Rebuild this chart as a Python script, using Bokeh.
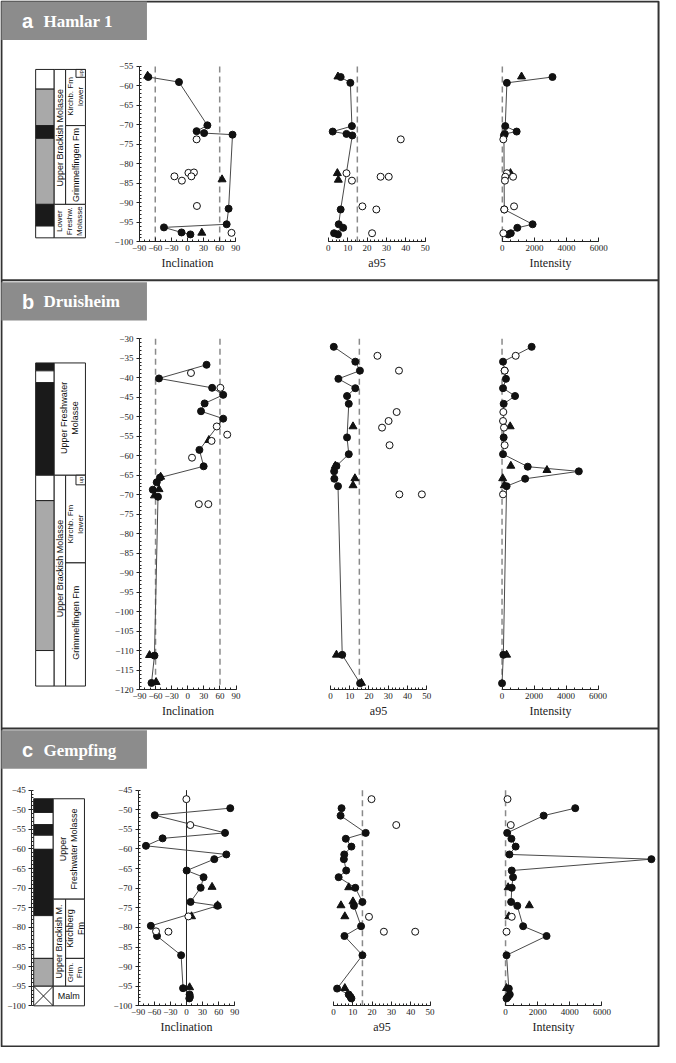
import math
from bokeh.plotting import figure
from bokeh.models import Range1d, LinearAxis, FixedTicker
from bokeh.core.properties import value
from bokeh.embed import file_html
from bokeh.resources import INLINE

# ======================= DATA =======================
# ---- Panel a : Hamlar 1 ----
a_inc_fill_d = [-57.7, -59.0, -70.1, -71.6, -72.1, -72.5, -91.5, -95.5, -96.3, -97.6, -98.1]
a_inc_fill_v = [-73, -15.8, 37.1, 17, 31, 83.9, 76.6, 73, -43.8, -11, 5.5]
a_inc_open_d = [-73.7, -83.2, -82.3, -82.2, -83.2, -84.3, -90.8, -97.7]
a_inc_open_v = [17, -24.3, 1.8, 12.1, 7.3, -10.4, 17.6, 82]
a_inc_tri_d = [-57.4, -84.0, -97.7]
a_inc_tri_v = [-74.2, 64.4, 26.7]

a_a95_fill_d = [-57.7, -59.2, -70.3, -71.7, -72.3, -72.7, -91.7, -95.5, -96.4, -97.8, -98.1]
a_a95_fill_v = [6.4, 11.4, 12.2, 2.3, 9.4, 12.4, 6.4, 5.4, 7.7, 3.0, 5.0]
a_a95_open_d = [-73.7, -82.4, -83.3, -83.3, -84.3, -90.9, -91.7, -97.8]
a_a95_open_v = [37.4, 9.4, 27.0, 31.2, 12.2, 17.6, 24.8, 22.6]
a_a95_tri_d = [-57.6, -82.4, -84.1]
a_a95_tri_v = [5.0, 4.7, 5.2]

a_int_fill_d = [-57.7, -59.2, -70.3, -71.7, -72.3, -72.7, -91.7, -95.5, -96.4, -97.8, -98.1]
a_int_fill_v = [3122, 284, 182, 892, 150, 100, 122, 1885, 932, 527, 365]
a_int_open_d = [-73.7, -82.4, -83.3, -83.3, -84.3, -90.9, -91.7, -97.8]
a_int_open_v = [61, 284, 182, 669, 162, 730, 122, 61]
a_int_tri_d = [-57.6, -82.4]
a_int_tri_v = [1196, 507]

# ---- Panel b : Druisheim ----
b_inc_fill_d = [-36.7, -40.2, -42.6, -44.4, -46.6, -48.6, -50.5, -58.5, -62.7, -65.6, -66.8, -68.7, -70.5, -111.2, -118.2]
b_inc_fill_v = [35, -53.6, 45.4, 66, 31.4, 24.7, 66, 21.7, 29.6, -51.8, -57.8, -65.1, -55.4, -62, -67.5]
b_inc_open_d = [-38.8, -42.6, -52.5, -54.6, -56.2, -60.5, -72.4, -72.4]
b_inc_open_v = [6, 60.8, 54, 73.5, 44.3, 7.9, 20.6, 38.3]
b_inc_tri_d = [-56.0, -65.4, -68.6, -70.2, -111.1, -118.0]
b_inc_tri_v = [39.3, -50.5, -53.5, -62, -71.2, -59]

b_a95_fill_d = [-32.1, -35.9, -38.2, -40.3, -42.7, -44.7, -46.7, -55.3, -59.6, -62.6, -64.0, -65.9, -67.8, -111.0, -118.3]
b_a95_fill_v = [1.7, 12.9, 15.3, 4.1, 12.9, 8.6, 9.5, 8.6, 9.5, 3.1, 1.9, 2.0, 3.9, 6.1, 15.4]
b_a95_open_d = [-34.4, -38.2, -48.8, -51.1, -52.8, -57.3, -69.9, -69.9]
b_a95_open_v = [24.4, 35.6, 34.4, 30.2, 26.8, 30.7, 35.8, 47.5]
b_a95_tri_d = [-52.5, -62.6, -65.8, -67.6, -111.0, -118.2]
b_a95_tri_v = [11.7, 2.5, 12.7, 11.7, 3.1, 16.1]

b_int_fill_d = [-32.1, -35.9, -38.2, -40.3, -42.7, -44.7, -46.7, -55.3, -59.6, -62.8, -64.0, -65.9, -67.8, -111.0, -118.3]
b_int_fill_v = [1851, 61, 163, 244, 61, 814, 102, 102, 61, 1607, 4800, 1444, 285, 81, 0]
b_int_open_d = [-34.4, -38.2, -48.8, -51.1, -52.8, -57.3, -69.9]
b_int_open_v = [854, 163, 81, 61, 122, 163, 61]
b_int_tri_d = [-52.5, -62.6, -63.7, -65.8, -67.6, -111.0]
b_int_tri_v = [509, 549, 2807, 41, 142, 285]

# ---- Panel c : Gempfing ----
c_inc_fill_d = [-49.6, -51.4, -55.9, -57.3, -59.2, -61.4, -62.6, -65.5, -67.2, -69.9, -73.5, -74.5, -79.6, -82.2, -87.1, -95.5, -97.1, -97.7, -98.1]
c_inc_fill_v = [81.5, -59.1, 71.8, -44.5, -75.5, 74.2, 51.8, 0.3, 31.8, 26.4, 7.6, 57.9, -66.4, -54.9, -10, -6.4, 5.8, 6.4, 5.2]
c_inc_open_d = [-47.3, -53.9, -77.2, -81.0, -81.1]
c_inc_open_v = [-0.2, 7.1, 3.5, -56.7, -33.6]
c_inc_tri_d = [-69.7, -74.4, -77.2, -95.3]
c_inc_tri_v = [47.6, 57.9, 9.4, 5.8]

c_a95_fill_d = [-49.6, -51.5, -55.9, -57.4, -59.4, -61.4, -62.6, -65.5, -67.2, -69.9, -73.5, -74.5, -79.7, -82.2, -87.1, -95.6, -97.1, -97.7, -98.1]
c_a95_fill_v = [4.2, 3.7, 16.7, 6.4, 9.3, 5.6, 5.4, 6.6, 2.7, 11.3, 15.0, 10.6, 14.3, 5.7, 15.0, 1.9, 7.9, 8.8, 9.3]
c_a95_open_d = [-47.3, -53.9, -77.3, -81.1, -81.1]
c_a95_open_v = [19.7, 32.5, 18.4, 26.1, 42.3]
c_a95_tri_d = [-69.8, -73.4, -74.4, -77.2, -95.5]
c_a95_tri_v = [7.9, 10.1, 3.9, 5.9, 5.9]

c_int_fill_d = [-49.6, -51.5, -55.9, -57.4, -59.4, -61.4, -62.6, -65.5, -67.2, -69.9, -73.5, -74.5, -79.7, -82.2, -87.1, -95.6, -97.1, -97.7, -98.1]
c_int_fill_v = [4338, 2372, 101, 365, 628, 243, 9081, 385, 466, 385, 345, 730, 1095, 2554, 61, 203, 264, 150, 61]
c_int_open_d = [-47.3, -53.9, -77.3, -81.1]
c_int_open_v = [122, 324, 385, 61]
c_int_tri_d = [-69.8, -74.4, -77.2, -95.5]
c_int_tri_v = [162, 1480, 203, 61]

# reference lines
inc_limits = [-60, 60]
inc_zero = [0]
a95_cutoff = [15]
int_zero = [0]

# axis ticks
inc_ticks = [-90, -60, -30, 0, 30, 60, 90]
a95_ticks = [0, 10, 20, 30, 40, 50]
int_ticks = [0, 2000, 4000, 6000]

# stratigraphy: polarity column (top, bottom, colour class)
a_pol_top = [-55.76, -60.81, -70.17, -73.45, -90.39, -95.95]
a_pol_bot = [-60.81, -70.17, -73.45, -90.39, -95.95, -98.98]
a_pol_cls = ["white", "gray", "black", "gray", "black", "white"]
b_pol_top = [-36.23, -38.25, -41.28, -65.0, -71.5, -109.9]
b_pol_bot = [-38.25, -41.28, -65.0, -71.5, -109.9, -119.0]
b_pol_cls = ["black", "white", "black", "white", "gray", "white"]
c_pol_top = [-47.2, -50.7, -53.8, -56.5, -60.1, -77.0, -87.9, -95.0]
c_pol_bot = [-50.7, -53.8, -56.5, -60.1, -77.0, -87.9, -95.0, -100.0]
c_pol_cls = ["black", "white", "black", "white", "black", "white", "gray", "cross"]

# stratigraphy units: (column, top, bottom, label, label depth, font px, angle)
a_units = [
    ("c2", -55.76, -90.39, "Upper Brackish Molasse", -73.3, 9, 90),
    ("c3", -55.76, -70.17, "Kirchb. Fm\nlower", -62.7, 8, 90),
    ("up", -55.76, -57.78, "up", -56.8, 6, 90),
    ("c3", -70.17, -90.39, "Grimmelfingen Fm", -80.3, 9, 90),
    ("c23", -90.39, -98.98, "Lower\nFreshw.\nMolasse", -94.7, 8, 90),
]
b_units = [
    ("c23", -36.23, -65.0, "Upper Freshwater\nMolasse", -50.3, 9, 90),
    ("c2", -65.0, -119.0, "Upper Brackish Molasse", -88.9, 9, 90),
    ("c3", -65.0, -87.45, "Kirchb. Fm\nlower", -77.5, 8, 90),
    ("up", -65.0, -67.45, "up", -66.2, 6, 90),
    ("c3", -87.45, -119.0, "Grimmelfingen Fm", -102.8, 9, 90),
]
c_units = [
    ("c23", -47.2, -72.8, "Upper\nFreshwater Molasse", -60.0, 9, 90),
    ("c2", -72.8, -95.0, "Upper Brackish M.", -83.6, 9, 90),
    ("c3", -72.8, -87.9, "Kirchberg\nFm", -80.3, 9, 90),
    ("c3", -87.9, -95.0, "Grim.\nFm", -91.5, 8, 90),
    ("c23", -95.0, -100.0, "Malm", -97.5, 9, 0),
]

titles = {"a": ("a", "Hamlar 1"), "b": ("b", "Druisheim"), "c": ("c", "Gempfing")}

# ======================= LAYOUT (reference pixel geometry) =======================
W_REF, H_REF = 676, 1063
W, H = 660, 1047

LAY = {
    "a": dict(top=0, depth=(-55, -100, 67, 245), inc=(142, 241), a95=(335.7, 435), int=(514, 612.7),
              strat=(36, 55, 66.7, 87), up_x=77.3, inc_lines="dash", strat_axis=False),
    "b": dict(top=285, depth=(-30, -120, 343.3, 700), inc=(142.3, 241.3), a95=(338, 436.5), int=(513.7, 612),
              strat=(36, 55, 66.7, 87), up_x=77.3, inc_lines="dash", strat_axis=False),
    "c": dict(top=740, depth=(-45, -100, 801.7, 1020.7), inc=(141, 240), a95=(341, 440), int=(517.3, 616),
              strat=(34, 54, 66.7, 86), up_x=77.3, inc_lines="zero", strat_axis=True),
}

COL = {"white": "white", "gray": "#a9a9a9", "black": "#1a1a1a", "cross": "white"}
INK = "#222222"
LINE = "#4a4a4a"
DASH = "#8a8a8a"
SERIF = "Liberation Serif"
SANS = "Liberation Sans"


def x_range_for(d0, d1, p0, p1):
    s = (d1 - d0) / (p1 - p0)
    return Range1d(start=d0 - p0 * s, end=d0 + (W_REF - p0) * s)


def y_range_for(d_top, d_bot, q_top, q_bot):
    s = (d_bot - d_top) / (q_bot - q_top)
    return Range1d(start=d_top + (H_REF - q_top) * s, end=d_top - q_top * s)


p = figure(width=W, height=H, x_range=Range1d(0, W_REF), y_range=Range1d(H_REF, 0),
           output_backend="svg", toolbar_location=None, min_border=0,
           x_axis_location=None, y_axis_location=None, outline_line_color=None,
           background_fill_color="white", border_fill_color="white")
p.xgrid.visible = False
p.ygrid.visible = False


def style_axis(ax, vertical=False):
    ax.axis_line_color = INK
    ax.axis_line_width = 1
    ax.major_tick_line_color = INK
    ax.minor_tick_line_color = INK
    if vertical:
        ax.major_tick_in, ax.major_tick_out = 0, 3
        ax.minor_tick_in, ax.minor_tick_out = 2, 0
    else:
        ax.major_tick_in, ax.major_tick_out = 4, 0
        ax.minor_tick_in, ax.minor_tick_out = 2, 0
    ax.major_label_text_font = SERIF
    ax.major_label_text_font_size = "9px"
    ax.major_label_text_color = INK
    ax.major_label_standoff = 3
    ax.axis_label_text_font = SERIF
    ax.axis_label_text_font_size = "12px"
    ax.axis_label_text_font_style = "normal"
    ax.axis_label_text_color = INK
    ax.axis_label_standoff = 2


def series(xr, yr, fd, fv, od, ov, td, tv):
    p.line(fv, fd, x_range_name=xr, y_range_name=yr, line_color=LINE, line_width=1)
    p.scatter(tv, td, x_range_name=xr, y_range_name=yr, marker="triangle", size=8,
              fill_color="#111111", line_color="#111111")
    p.scatter(fv, fd, x_range_name=xr, y_range_name=yr, marker="circle", size=7,
              fill_color="#111111", line_color="#111111")
    p.scatter(ov, od, x_range_name=xr, y_range_name=yr, marker="circle", size=7,
              fill_color="white", line_color="#111111", line_width=1)


DATA = {
    "a": dict(inc=(a_inc_fill_d, a_inc_fill_v, a_inc_open_d, a_inc_open_v, a_inc_tri_d, a_inc_tri_v),
              a95=(a_a95_fill_d, a_a95_fill_v, a_a95_open_d, a_a95_open_v, a_a95_tri_d, a_a95_tri_v),
              int=(a_int_fill_d, a_int_fill_v, a_int_open_d, a_int_open_v, a_int_tri_d, a_int_tri_v),
              pol=(a_pol_top, a_pol_bot, a_pol_cls), units=a_units),
    "b": dict(inc=(b_inc_fill_d, b_inc_fill_v, b_inc_open_d, b_inc_open_v, b_inc_tri_d, b_inc_tri_v),
              a95=(b_a95_fill_d, b_a95_fill_v, b_a95_open_d, b_a95_open_v, b_a95_tri_d, b_a95_tri_v),
              int=(b_int_fill_d, b_int_fill_v, b_int_open_d, b_int_open_v, b_int_tri_d, b_int_tri_v),
              pol=(b_pol_top, b_pol_bot, b_pol_cls), units=b_units),
    "c": dict(inc=(c_inc_fill_d, c_inc_fill_v, c_inc_open_d, c_inc_open_v, c_inc_tri_d, c_inc_tri_v),
              a95=(c_a95_fill_d, c_a95_fill_v, c_a95_open_d, c_a95_open_v, c_a95_tri_d, c_a95_tri_v),
              int=(c_int_fill_d, c_int_fill_v, c_int_open_d, c_int_open_v, c_int_tri_d, c_int_tri_v),
              pol=(c_pol_top, c_pol_bot, c_pol_cls), units=c_units),
}

# ---------- frame, separators, headers ----------
p.quad(left=[1], right=[674], top=[1], bottom=[1062], fill_color=None, line_color="#333333", line_width=2)
p.segment(x0=[1, 1], x1=[674, 674], y0=[284, 739], y1=[284, 739], line_color="#333333", line_width=2)

for key in ["a", "b", "c"]:
    L = LAY[key]
    D = DATA[key]
    t = L["top"]
    # header
    p.quad(left=[1], right=[150], top=[t + 1], bottom=[t + 40], fill_color="#8c8c8c", line_color=None)
    letter, name = titles[key]
    p.text(x=[22], y=[t + 21], text=[letter], text_font=value(SANS), text_font_style="bold",
           text_font_size="20px", text_color="white", text_baseline="middle")
    p.text(x=[44], y=[t + 21], text=[name], text_font=value(SERIF), text_font_style="bold",
           text_font_size="17px", text_color="white", text_baseline="middle")

    d_top, d_bot, q_top, q_bot = L["depth"]
    yr = f"{key}_y"
    p.extra_y_ranges[yr] = y_range_for(d_top, d_bot, q_top, q_bot)
    specs = [("inc", (-90, 90), "Inclination", inc_ticks, list(range(-90, 91, 10))),
             ("a95", (0, 50), "a95", a95_ticks, list(range(0, 51, 2))),
             ("int", (0, 6000), "Intensity", int_ticks, list(range(0, 6001, 500)))]
    for name_, (x0, x1), label, ticks, minor in specs:
        xr = f"{key}_{name_}"
        p0, p1 = L[name_]
        p.extra_x_ranges[xr] = x_range_for(x0, x1, p0, p1)
        # reference lines
        if name_ == "inc":
            if L["inc_lines"] == "dash":
                for v in inc_limits:
                    p.line([v, v], [d_top, d_bot], x_range_name=xr, y_range_name=yr,
                           line_color=DASH, line_width=1.5, line_dash="6 4")
            else:
                for v in inc_zero:
                    p.line([v, v], [d_top, d_bot], x_range_name=xr, y_range_name=yr,
                           line_color=INK, line_width=1)
        elif name_ == "a95":
            for v in a95_cutoff:
                p.line([v, v], [d_top, d_bot], x_range_name=xr, y_range_name=yr,
                       line_color=DASH, line_width=1.5, line_dash="6 4")
        else:
            for v in int_zero:
                p.line([v, v], [d_top, d_bot], x_range_name=xr, y_range_name=yr,
                       line_color=DASH, line_width=1.5, line_dash="6 4")
        fd, fv, od, ov, td, tv = D[name_]
        series(xr, yr, fd, fv, od, ov, td, tv)
        ax = LinearAxis(x_range_name=xr, y_range_name=yr, fixed_location=d_bot, bounds=(x0, x1),
                        ticker=FixedTicker(ticks=ticks, minor_ticks=minor), axis_label=label)
        style_axis(ax)
        p.add_layout(ax, "below")
        if name_ == "inc":
            dticks = list(range(int(d_top), int(d_bot) - 1, -5))
            yax = LinearAxis(x_range_name=xr, y_range_name=yr, fixed_location=x0, bounds=(d_bot, d_top),
                             ticker=FixedTicker(ticks=dticks, minor_ticks=list(range(int(d_bot), int(d_top) + 1))))
            style_axis(yax, vertical=True)
            yax.axis_label = None
            p.add_layout(yax, "left")

    # ---------- stratigraphic column ----------
    sx0, sx1, sx2, sx3 = L["strat"]
    ptop, pbot, pcls = D["pol"]
    p.quad(left=[sx0] * len(ptop), right=[sx1] * len(ptop), top=ptop, bottom=pbot,
           fill_color=[COL[c] for c in pcls], line_color=INK, line_width=1, y_range_name=yr)
    for tp, bt, c in zip(ptop, pbot, pcls):
        if c == "cross":
            p.segment(x0=[sx0, sx0], x1=[sx1, sx1], y0=[tp, bt], y1=[bt, tp],
                      line_color=INK, line_width=1, y_range_name=yr)
    for col, tp, bt, lab, ld, fs, ang in D["units"]:
        if col == "c2":
            l, r = sx1, sx2
        elif col == "c3":
            l, r = sx2, sx3
        elif col == "up":
            l, r = L["up_x"], sx3
        else:
            l, r = sx1, sx3
        p.quad(left=[l], right=[r], top=[tp], bottom=[bt], fill_color="white",
               line_color=INK, line_width=1, y_range_name=yr)
        p.text(x=[(l + r) / 2], y=[ld], text=[lab], angle=math.radians(ang), y_range_name=yr,
               text_font=value(SANS), text_font_size=f"{fs}px", text_color="#111111",
               text_align="center", text_baseline="middle", text_line_height=1.1)
    if L["strat_axis"]:
        sax = LinearAxis(y_range_name=yr, fixed_location=sx0 - 2, bounds=(d_bot, d_top),
                         ticker=FixedTicker(ticks=list(range(int(d_top), int(d_bot) - 1, -5)),
                                            minor_ticks=list(range(int(d_bot), int(d_top) + 1))))
        style_axis(sax, vertical=True)
        p.add_layout(sax, "left")

open("out.html", "w").write(file_html(p, INLINE))
